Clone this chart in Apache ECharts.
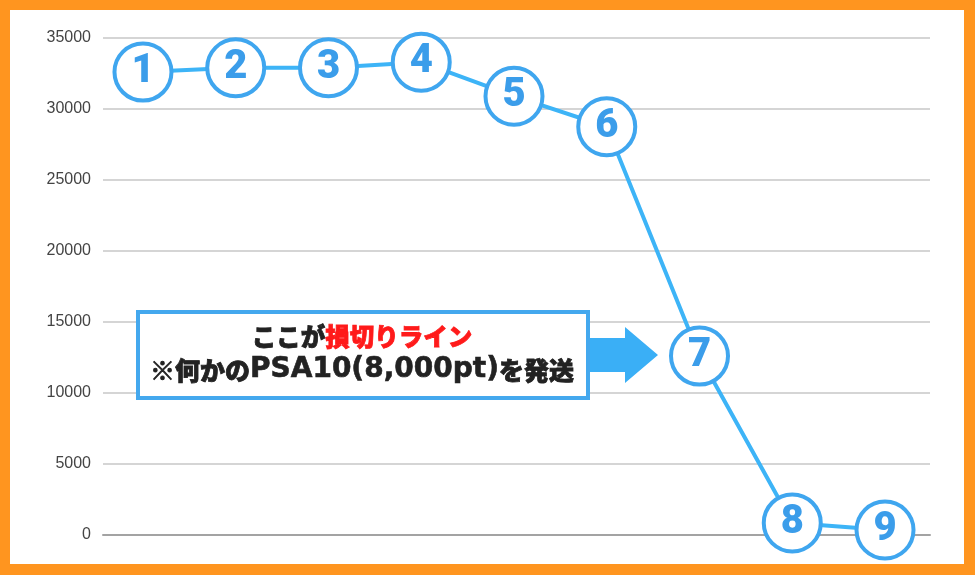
<!DOCTYPE html>
<html>
<head>
<meta charset="utf-8">
<script src="https://cdn.jsdelivr.net/npm/echarts@6/dist/echarts.min.js"></script>
<style>
    html, body { margin: 0; padding: 0; background: #FF951F; }
    #chart { position: absolute; left: 10px; top: 10px; width: 954px; height: 554px; background: #fff; }
</style>
</head>
<body>
<div id="chart"></div>
<script>
// 1〜9回目の推移（pt）
const steps = ['1', '2', '3', '4', '5', '6', '7', '8', '9'];
const points = [32600, 32900, 32900, 33300, 30900, 28750, 12600, 850, 350];
const yMin = 0, yMax = 35000, yStep = 5000;

const noteTitle = 'ここが';
const noteRed = '損切りライン';
const noteSub = ['※何かの', 'PSA10(8,000pt)', 'を発送'];

var myChart = echarts.init(document.getElementById('chart'));

var option = {
    animation: false,
    grid: { left: 93, right: 34, top: 28, bottom: 29 },
    xAxis: {
        type: 'value',
        min: 0.569,
        max: 9.485,
        axisLine: { show: true, lineStyle: { color: '#a3a3a3', width: 2 } },
        axisTick: { show: false },
        axisLabel: { show: false },
        splitLine: { show: false }
    },
    yAxis: {
        type: 'value',
        min: yMin,
        max: yMax,
        interval: yStep,
        axisLine: { show: false },
        axisTick: { show: false },
        axisLabel: {
            margin: 12,
            fontSize: 16,
            color: '#444',
            fontFamily: 'Liberation Sans',
            formatter: v => String(v)
        },
        splitLine: { lineStyle: { color: '#d5d5d5', width: 2 } }
    },
    series: [{
        type: 'line',
        data: points.map((v, i) => [i + 1, v]),
        lineStyle: { color: '#3DB4F7', width: 4 },
        symbol: 'circle',
        symbolSize: 57,
        itemStyle: { color: '#fff', borderColor: '#3FA6EF', borderWidth: 4 },
        label: {
            show: true,
            position: 'inside',
            formatter: p => steps[p.dataIndex],
            fontFamily: 'Roboto',
            fontWeight: 900,
            fontSize: 40,
            color: '#3B9DEA'
        },
        emphasis: { disabled: true }
    }],
    graphic: [
        {
            type: 'rect',
            z: 100,
            shape: { x: 128, y: 302, width: 450, height: 86 },
            style: { fill: '#fff', stroke: '#44A8EE', lineWidth: 4 }
        },
        {
            type: 'text',
            z: 101,
            style: {
                x: 352, y: 327,
                text: '{k|' + noteTitle + '}{r|' + noteRed + '}',
                align: 'center',
                verticalAlign: 'middle',
                rich: {
                    k: { fontFamily: 'Noto Sans CJK JP', fontWeight: 900, fontSize: 24.5, fill: '#222', stroke: '#222', lineWidth: 0.8 },
                    r: { fontFamily: 'Noto Sans CJK JP', fontWeight: 900, fontSize: 24.5, fill: '#FF1A1A', stroke: '#FF1A1A', lineWidth: 0.8 }
                }
            }
        },
        {
            type: 'text',
            z: 101,
            style: {
                x: 352, y: 360,
                text: '{m|' + noteSub[0] + '}{l|' + noteSub[1] + '}{m|' + noteSub[2] + '}',
                align: 'center',
                verticalAlign: 'middle',
                rich: {
                    m: { fontFamily: 'Noto Sans CJK JP', fontWeight: 900, fontSize: 25, fill: '#222', stroke: '#222', lineWidth: 0.8 },
                    l: { fontFamily: 'DejaVu Sans', fontWeight: 'bold', fontSize: 28, fill: '#222', stroke: '#222', lineWidth: 0.6 }
                }
            }
        },
        {
            // 矢印
            type: 'polygon',
            z: 100,
            shape: { points: [[580, 328], [615, 328], [615, 317], [648, 345], [615, 373], [615, 362], [580, 362]] },
            style: { fill: '#3AAFF6' }
        }
    ]
};
myChart.setOption(option);
</script>
</body>
</html>
